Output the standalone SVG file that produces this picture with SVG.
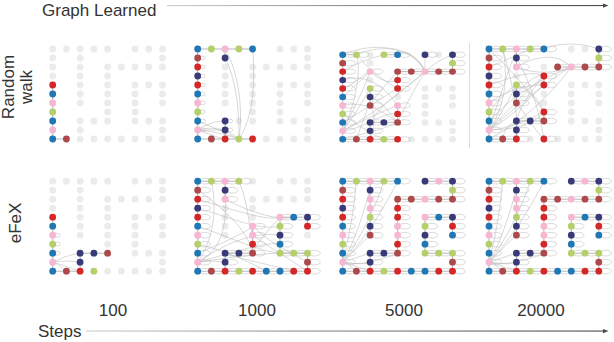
<svg xmlns="http://www.w3.org/2000/svg" width="614" height="342" viewBox="0 0 614 342">
<style>
text{font-family:"Liberation Sans",Arial,sans-serif;fill:#333;font-size:17px}
circle{r:3.4px}
.m{fill:#ebebeb}.b{fill:#1f77b4}.g{fill:#b5cf6b}.p{fill:#f7b6d2}.n{fill:#393b79}.d{fill:#ad494a}.r{fill:#d62728}
.e{fill:none;stroke:#9a9a9a;stroke-width:.7}
.c{fill:none;stroke:#b0b0b0;stroke-width:.5}
.lo{fill:none;stroke:#c2c2c2;stroke-width:.6}
</style>
<defs>
<linearGradient id="ag" x1="0" y1="0" x2="1" y2="0">
<stop offset="0" stop-color="#cfcfcf"/><stop offset=".45" stop-color="#8a8a8a"/><stop offset="1" stop-color="#4a4a4a"/>
</linearGradient>
<ellipse id="L" cx="7" rx="5.8" ry="2.8" class="lo"/>
<ellipse id="S" cx="4.8" rx="2.8" ry="1.9" class="lo"/>
<g id="Lb"><use href="#L"/><circle class="b"/></g>
<g id="Lg"><use href="#L"/><circle class="g"/></g>
<g id="Lp"><use href="#L"/><circle class="p"/></g>
<g id="Ln"><use href="#L"/><circle class="n"/></g>
<g id="Ld"><use href="#L"/><circle class="d"/></g>
<g id="Lr"><use href="#L"/><circle class="r"/></g>
<g id="maze" class="m">
<circle/><circle cx="13.7"/><circle cx="27.4"/><circle cx="41.2"/><circle cx="54.9"/><circle cx="82.3"/><circle cx="96"/><circle cx="109.8"/>
<circle cy="9"/><circle cx="27.4" cy="9"/><circle cx="109.8" cy="9"/>
<circle cy="18"/><circle cx="27.4" cy="18"/><circle cx="54.9" cy="18"/><circle cx="68.6" cy="18"/><circle cx="82.3" cy="18"/><circle cx="96" cy="18"/><circle cx="109.8" cy="18"/>
<circle cy="27"/><circle cx="27.4" cy="27"/><circle cx="54.9" cy="27"/>
<circle cy="36"/><circle cx="27.4" cy="36"/><circle cx="54.9" cy="36"/><circle cx="82.3" cy="36"/><circle cx="96" cy="36"/><circle cx="109.8" cy="36"/>
<circle cy="45"/><circle cx="27.4" cy="45"/><circle cx="54.9" cy="45"/><circle cx="82.3" cy="45"/><circle cx="109.8" cy="45"/>
<circle cy="54"/><circle cx="27.4" cy="54"/><circle cx="54.9" cy="54"/><circle cx="82.3" cy="54"/><circle cx="109.8" cy="54"/>
<circle cy="63"/><circle cx="54.9" cy="63"/><circle cx="82.3" cy="63"/>
<circle cy="72"/><circle cx="27.4" cy="72"/><circle cx="41.2" cy="72"/><circle cx="54.9" cy="72"/><circle cx="82.3" cy="72"/><circle cx="96" cy="72"/><circle cx="109.8" cy="72"/>
<circle cy="81"/><circle cx="27.4" cy="81"/><circle cx="109.8" cy="81"/>
<circle cy="90"/><circle cx="13.7" cy="90"/><circle cx="27.4" cy="90"/><circle cx="41.2" cy="90"/><circle cx="54.9" cy="90"/><circle cx="68.6" cy="90"/><circle cx="82.3" cy="90"/><circle cx="96" cy="90"/><circle cx="109.8" cy="90"/>
</g>
<path id="fullE" class="e" d="M0 0H54.9M82.3 0H109.8M54.9 18H109.8M82.3 36H109.8M27.4 72H54.9M82.3 72H109.8M0 90H109.8M0 0V90M27.4 0V54M27.4 72V90M54.9 18V72M82.3 36V72M109.8 0V18M109.8 36V54M109.8 72V90"/>
<g id="full">
<use href="#Lb"/><use href="#Lg" x="13.7"/><use href="#Lp" x="27.4"/><use href="#Lg" x="41.2"/><use href="#Lb" x="54.9"/><use href="#Ln" x="82.3"/><use href="#Lp" x="96"/><use href="#Ln" x="109.8"/>
<use href="#Ld" y="9"/><use href="#Ln" x="27.4" y="9"/><use href="#Lg" x="109.8" y="9"/>
<use href="#Lr" y="18"/><use href="#Lp" x="27.4" y="18"/><use href="#Ld" x="54.9" y="18"/><use href="#Ld" x="68.6" y="18"/><use href="#Lp" x="82.3" y="18"/><use href="#Ld" x="96" y="18"/><use href="#Ld" x="109.8" y="18"/>
<use href="#Ln" y="27"/><use href="#Lp" x="27.4" y="27"/><use href="#Lr" x="54.9" y="27"/>
<use href="#Lr" y="36"/><use href="#Lg" x="27.4" y="36"/><use href="#Lr" x="54.9" y="36"/><use href="#Lp" x="82.3" y="36"/><use href="#Lb" x="96" y="36"/><use href="#Ln" x="109.8" y="36"/>
<use href="#Lb" y="45"/><use href="#Ln" x="27.4" y="45"/><use href="#Lp" x="54.9" y="45"/><use href="#Lg" x="82.3" y="45"/><use href="#Lr" x="109.8" y="45"/>
<use href="#Lp" y="54"/><use href="#Ld" x="27.4" y="54"/><use href="#Lp" x="54.9" y="54"/><use href="#Ln" x="82.3" y="54"/><use href="#Lb" x="109.8" y="54"/>
<use href="#Lg" y="63"/><use href="#Lr" x="54.9" y="63"/><use href="#Lb" x="82.3" y="63"/>
<use href="#Lb" y="72"/><use href="#Ln" x="27.4" y="72"/><use href="#Ln" x="41.2" y="72"/><use href="#Ld" x="54.9" y="72"/><use href="#Lg" x="82.3" y="72"/><use href="#Lg" x="96" y="72"/><use href="#Lg" x="109.8" y="72"/>
<use href="#Lp" y="81"/><use href="#Ln" x="27.4" y="81"/><use href="#Ld" x="109.8" y="81"/>
<use href="#Lb" y="90"/><use href="#Ld" x="13.7" y="90"/><use href="#Lr" x="27.4" y="90"/><use href="#Lg" x="41.2" y="90"/><use href="#Lr" x="54.9" y="90"/><use href="#Lb" x="68.6" y="90"/><use href="#Lb" x="82.3" y="90"/><use href="#Lr" x="96" y="90"/><use href="#Lr" x="109.8" y="90"/>
</g>
<path id="fan" class="c" d="M0 81C8 50 12 20 13.7 0M0 81C15 55 22 25 27.4 9M0 81C20 55 35 20 41.2 0M0 81C25 55 45 20 54.9 0M0 81C12 70 20 60 27.4 54M0 81C10 78 20 74 27.4 72M0 81C10 82 20 84 27.4 81M0 81C8 84 10 87 13.7 90M0 81C15 85 35 80 54.9 72M0 81C12 84 20 88 27.4 90"/>
</defs>

<g id="labels">
<text x="42" y="16">Graph Learned</text>
<text transform="translate(14,87) rotate(-90)" text-anchor="middle">Random</text>
<text transform="translate(32,87) rotate(-90)" text-anchor="middle">walk</text>
<text transform="translate(21,223) rotate(-90)" text-anchor="middle">eFeX</text>
<text x="113" y="316" text-anchor="middle">100</text>
<text x="257" y="316" text-anchor="middle">1000</text>
<text x="404" y="316" text-anchor="middle">5000</text>
<text x="541" y="316" text-anchor="middle">20000</text>
<text x="38" y="337">Steps</text>
</g>

<g id="axes">
<rect x="167" y="5" width="437" height="1.1" fill="url(#ag)"/>
<polygon points="603,3.4 608.5,5.55 603,7.7" fill="#4a4a4a"/>
<rect x="86" y="330.5" width="518" height="1.1" fill="url(#ag)"/>
<polygon points="603,328.9 608.5,331.05 603,333.2" fill="#4a4a4a"/>
<line x1="469.5" y1="43" x2="469.5" y2="148" stroke="#dcdcdc" stroke-width="1"/>
</g>

<g id="rw-100" transform="translate(52.7,49)">
<use href="#maze"/>
<path class="e" d="M0 36V90H13.7"/>
<circle class="r" cy="36"/><circle class="b" cy="45"/><circle class="p" cy="54"/><circle class="g" cy="63"/><circle class="b" cy="72"/><circle class="p" cy="81"/><circle class="b" cy="90"/><circle class="d" cx="13.7" cy="90"/>
</g>

<g id="rw-1000" transform="translate(197.7,49)">
<use href="#maze"/>
<path class="e" d="M0 0H54.9M0 0V90H54.9M27.4 0V9M27.4 72V90"/>
<path class="c" d="M27.4 0C40 20 46 60 41.2 90M27.4 9C38 30 42 60 41.2 90M54.9 0C58 35 55 70 41.2 90M0 81C10 74 20 72 27.4 72M0 81C15 82 30 86 41.2 90M0 81C15 77 30 80 41.2 90M0 72C15 78 30 85 41.2 90M0 81C10 84 20 89 27.4 90M0 81L27.4 81"/>
<use href="#S" y="9"/><use href="#S" y="18"/><use href="#S" y="27"/><use href="#S" y="36"/><use href="#S" y="45"/><use href="#S" y="54"/><use href="#S" y="63"/><use href="#S" y="72"/><use href="#S" y="81"/><use href="#S" x="27.4" y="72"/><use href="#S" x="27.4" y="81"/>
<circle class="b"/><circle class="g" cx="13.7"/><circle class="p" cx="27.4"/><circle class="g" cx="41.2"/><circle class="b" cx="54.9"/>
<circle class="d" cy="9"/><circle class="n" cx="27.4" cy="9"/>
<circle class="r" cy="18"/><circle class="n" cy="27"/><circle class="r" cy="36"/><circle class="b" cy="45"/><circle class="p" cy="54"/><circle class="g" cy="63"/><circle class="b" cy="72"/><circle class="p" cy="81"/><circle class="b" cy="90"/>
<circle class="n" cx="27.4" cy="72"/><circle class="n" cx="27.4" cy="81"/>
<circle class="d" cx="13.7" cy="90"/><circle class="r" cx="27.4" cy="90"/><circle class="g" cx="41.2" cy="90"/><circle class="r" cx="54.9" cy="90"/>
</g>

<g id="rw-5000" transform="translate(342.7,54.7) scale(1,0.94)">
<use href="#maze"/>
<path class="e" d="M0 0H13.7M41.2 0H54.9M109.8 0V18M54.9 18H109.8M0 0V90M27.4 36V54M27.4 72V90M54.9 18V36M54.9 54V72M27.4 72H54.9M0 90H54.9"/>
<path class="c" d="M0 0C30 -14 70 -10 82.3 18M13.7 0C40 -12 70 -8 82.3 18M54.9 0C65 -6 78 5 82.3 18M82.3 18L82.3 0M82.3 18C90 10 100 4 109.8 0M82.3 18C70 30 40 50 27.4 72M82.3 18C60 40 20 70 0 81M82.3 18C70 40 60 60 54.9 72M27.4 18C20 40 10 60 0 81M27.4 18C40 30 50 30 54.9 27M27.4 18C15 30 5 40 0 45M0 81C15 60 25 40 27.4 36M0 81C20 70 40 60 54.9 54M0 81C20 80 40 60 54.9 63M0 81C10 60 20 20 13.7 0M0 72C20 60 40 45 54.9 36M0 54C15 50 35 55 54.9 72M0 36C15 30 20 20 27.4 18M0 27C20 20 40 30 54.9 54M27.4 45C40 50 45 60 54.9 72M27.4 54C35 65 30 80 27.4 90M0 63C10 70 20 80 41.2 90M13.7 90C20 70 25 60 27.4 45M0 18C15 8 25 5 41.2 0M54.9 18C45 30 35 40 27.4 54M0 90C20 84 40 80 54.9 72M13.7 0C30 20 45 30 54.9 36"/>
<use href="#Lb"/><use href="#Lg" x="13.7"/><use href="#Lg" x="41.2"/><use href="#Lb" x="54.9"/><use href="#Ln" x="82.3"/><use href="#Ln" x="109.8"/>
<use href="#Ld" y="9"/><use href="#Lg" x="109.8" y="9"/>
<use href="#Lr" y="18"/><use href="#Lp" x="27.4" y="18"/><use href="#Ld" x="54.9" y="18"/><use href="#Ld" x="68.6" y="18"/><use href="#Lp" x="82.3" y="18"/><use href="#Ld" x="96" y="18"/><use href="#Ld" x="109.8" y="18"/>
<use href="#Ln" y="27"/><use href="#Lr" x="54.9" y="27"/>
<use href="#Lr" y="36"/><use href="#Lg" x="27.4" y="36"/><use href="#Lr" x="54.9" y="36"/>
<use href="#Lb" y="45"/><use href="#Ln" x="27.4" y="45"/>
<use href="#Lp" y="54"/><use href="#Ld" x="27.4" y="54"/><use href="#Lp" x="54.9" y="54"/>
<use href="#Lg" y="63"/><use href="#Lr" x="54.9" y="63"/>
<use href="#Lb" y="72"/><use href="#Ln" x="27.4" y="72"/><use href="#Ln" x="41.2" y="72"/><use href="#Ld" x="54.9" y="72"/>
<use href="#Lp" y="81"/><use href="#Ln" x="27.4" y="81"/>
<use href="#Lb" y="90"/><use href="#Ld" x="13.7" y="90"/><use href="#Lr" x="27.4" y="90"/><use href="#Lg" x="41.2" y="90"/><use href="#Lr" x="54.9" y="90"/>
</g>

<g id="rw-20000" transform="translate(489,49)">
<use href="#maze"/>
<path class="e" d="M0 0H54.9M109.8 0V18M68.6 18H109.8M0 0V90M27.4 0V18M27.4 36V54M27.4 72V90M54.9 27V36M54.9 63V72M27.4 72H54.9M0 90H27.4"/>
<path class="c" d="M0 81C20 60 40 40 54.9 27M0 81C25 60 60 30 82.3 18M0 81C10 50 20 20 27.4 0M0 81C20 70 40 50 54.9 36M0 81C30 80 45 75 54.9 63M0 72C20 50 50 30 82.3 18M27.4 18C50 5 70 5 82.3 18M27.4 18C45 25 65 25 82.3 18M54.9 0C75 -8 95 -5 109.8 0M13.7 0C20 30 15 60 0 81M13.7 0C25 40 30 70 27.4 90M27.4 9C40 30 50 60 54.9 90M27.4 36C40 40 50 50 54.9 63M27.4 36C20 50 10 70 0 81M27.4 45C40 30 50 25 54.9 27M54.9 27C40 45 30 60 27.4 72M54.9 63C40 70 20 80 0 81M0 36C20 30 40 20 54.9 27M0 54C20 40 40 35 54.9 36M27.4 54C40 70 45 80 54.9 90M82.3 18C70 35 40 70 0 90M0 18C20 10 30 5 41.2 0M13.7 90C15 80 20 75 27.4 72M0 63C10 50 20 40 27.4 36M0 0C20 20 40 40 54.9 63"/>
<use href="#Lb"/><use href="#Lg" x="13.7"/><use href="#Lp" x="27.4"/><use href="#Lg" x="41.2"/><use href="#Lb" x="54.9"/><use href="#Ln" x="109.8"/>
<use href="#Ld" y="9"/><use href="#Ln" x="27.4" y="9"/><use href="#Lg" x="109.8" y="9"/>
<use href="#Lr" y="18"/><use href="#Lp" x="27.4" y="18"/><use href="#Ld" x="68.6" y="18"/><use href="#Lp" x="82.3" y="18"/><use href="#Ld" x="96" y="18"/><use href="#Ld" x="109.8" y="18"/>
<use href="#Ln" y="27"/><use href="#Lr" x="54.9" y="27"/>
<use href="#Lr" y="36"/><use href="#Lg" x="27.4" y="36"/><use href="#Lr" x="54.9" y="36"/>
<use href="#Lb" y="45"/><use href="#Ln" x="27.4" y="45"/>
<use href="#Lp" y="54"/><use href="#Ld" x="27.4" y="54"/>
<use href="#Lg" y="63"/><use href="#Lr" x="54.9" y="63"/>
<use href="#Lb" y="72"/><use href="#Ln" x="27.4" y="72"/><use href="#Ln" x="41.2" y="72"/><use href="#Ld" x="54.9" y="72"/>
<use href="#Lp" y="81"/><use href="#Ln" x="27.4" y="81"/>
<use href="#Lb" y="90"/><use href="#Ld" x="13.7" y="90"/><use href="#Lr" x="27.4" y="90"/><use href="#Lr" x="54.9" y="90"/>
</g>

<g id="efex-100" transform="translate(52.7,181.2)">
<use href="#maze"/>
<path class="e" d="M0 36V90H27.4M27.4 72H54.9M27.4 72V90"/>
<path class="c" d="M0 81C10 79 20 80 27.4 81M0 81C8 84 10 88 13.7 90M0 81C12 84 20 88 27.4 90M0 81C10 76 20 73 27.4 72"/>
<use href="#S" y="54"/><use href="#S" y="63"/><use href="#S" y="72"/>
<circle class="r" cy="36"/><circle class="b" cy="45"/><circle class="p" cy="54"/><circle class="g" cy="63"/><circle class="b" cy="72"/><circle class="p" cy="81"/><circle class="b" cy="90"/>
<circle class="n" cx="27.4" cy="72"/><circle class="n" cx="41.2" cy="72"/><circle class="d" cx="54.9" cy="72"/><circle class="n" cx="27.4" cy="81"/>
<circle class="d" cx="13.7" cy="90"/><circle class="r" cx="27.4" cy="90"/><circle class="g" cx="41.2" cy="90"/>
</g>

<g id="efex-1000" transform="translate(197.7,181.2)">
<use href="#maze"/>
<path class="e" d="M0 0H41.2M0 0V90H109.8M27.4 0V18M27.4 72V90M27.4 72H54.9M54.9 45V72M82.3 36H109.8M82.3 36V72H109.8M109.8 36V45M109.8 72V90"/>
<path class="c" d="M0 9C30 30 50 50 54.9 72M0 18C40 30 70 40 82.3 36M0 27C30 35 60 50 82.3 45M13.7 0C20 30 15 60 0 81M27.4 9C30 40 25 70 0 81M27.4 18C50 30 80 40 96 36M0 81C30 60 60 50 82.3 54M0 81C40 75 80 70 109.8 72M0 81C40 70 70 60 82.3 63M0 45C30 55 60 70 82.3 72M54.9 45C70 60 90 70 109.8 81M54.9 54C70 65 95 80 109.8 90M82.3 36C70 50 60 60 54.9 72M0 72C30 60 50 50 54.9 45M41.2 0C50 20 50 40 54.9 54M27.4 72C50 80 80 85 96 90M0 63C30 70 50 80 68.6 90M0 81C10 79 20 80 27.4 81"/>
<use href="#Lb"/><use href="#Lg" x="13.7"/><use href="#Lp" x="27.4"/><use href="#Lg" x="41.2"/>
<use href="#Ld" y="9"/><use href="#Ln" x="27.4" y="9"/>
<use href="#Lr" y="18"/><use href="#Lp" x="27.4" y="18"/>
<use href="#Ln" y="27"/>
<use href="#Lr" y="36"/><use href="#Lp" x="82.3" y="36"/><use href="#Lb" x="96" y="36"/><use href="#Ln" x="109.8" y="36"/>
<use href="#Lb" y="45"/><use href="#Lp" x="54.9" y="45"/><use href="#Lg" x="82.3" y="45"/><use href="#Lr" x="109.8" y="45"/>
<use href="#Lp" y="54"/><use href="#Lp" x="54.9" y="54"/><use href="#Ln" x="82.3" y="54"/>
<use href="#Lg" y="63"/><use href="#Lr" x="54.9" y="63"/><use href="#Lb" x="82.3" y="63"/>
<use href="#Lb" y="72"/><use href="#Ln" x="27.4" y="72"/><use href="#Ln" x="41.2" y="72"/><use href="#Ld" x="54.9" y="72"/><use href="#Lg" x="82.3" y="72"/><use href="#Lg" x="96" y="72"/><use href="#Lg" x="109.8" y="72"/>
<use href="#Lp" y="81"/><use href="#Ln" x="27.4" y="81"/><use href="#Ld" x="109.8" y="81"/>
<use href="#Lb" y="90"/><use href="#Ld" x="13.7" y="90"/><use href="#Lr" x="27.4" y="90"/><use href="#Lg" x="41.2" y="90"/><use href="#Lr" x="54.9" y="90"/><use href="#Lb" x="68.6" y="90"/><use href="#Lb" x="82.3" y="90"/><use href="#Lr" x="96" y="90"/><use href="#Lr" x="109.8" y="90"/>
</g>

<g id="efex-5000" transform="translate(342.7,181.2)">
<use href="#fullE"/><use href="#fan"/><use href="#full"/>
</g>

<g id="efex-20000" transform="translate(489,181.2)">
<use href="#fullE"/><use href="#fan"/><use href="#full"/>
</g>
</svg>
